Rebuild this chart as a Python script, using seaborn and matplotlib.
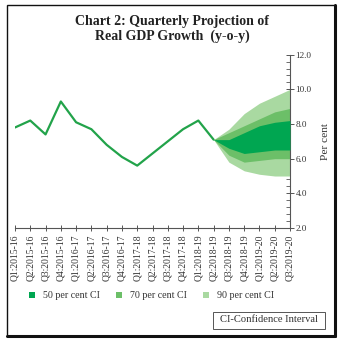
import matplotlib
matplotlib.use("Agg")
import matplotlib.pyplot as plt
from matplotlib.patches import Patch, Rectangle
from matplotlib.lines import Line2D
from matplotlib.ticker import MultipleLocator
import numpy as np
import pandas as pd
import seaborn as sns

# Quarter labels (fiscal years)
quarters = [
    "Q1:2015-16", "Q2:2015-16", "Q3:2015-16", "Q4:2015-16",
    "Q1:2016-17", "Q2:2016-17", "Q3:2016-17", "Q4:2016-17",
    "Q1:2017-18", "Q2:2017-18", "Q3:2017-18", "Q4:2017-18",
    "Q1:2018-19", "Q2:2018-19", "Q3:2018-19", "Q4:2018-19",
    "Q1:2019-20", "Q2:2019-20", "Q3:2019-20",
]

# Actual real GDP growth, Q1:2015-16 to Q2:2018-19 (per cent)
gdp_actual = [7.8, 8.2, 7.4, 9.3, 8.1, 7.7, 6.8, 6.1, 5.6, 6.3, 7.0, 7.7, 8.2, 7.1]

# Projection fan, Q2:2018-19 to Q3:2019-20 (per cent)
fan_start = 13
ci90_low = [7.1, 5.8, 5.3, 5.1, 5.0, 5.0]
ci90_high = [7.1, 7.7, 8.6, 9.2, 9.6, 10.0]
ci70_low = [7.1, 6.2, 5.8, 5.9, 6.0, 6.0]
ci70_high = [7.1, 7.5, 7.9, 8.3, 8.7, 8.9]
ci50_low = [7.1, 6.6, 6.3, 6.4, 6.5, 6.5]
ci50_high = [7.1, 7.1, 7.5, 7.9, 8.1, 8.2]

legend_labels = ["50 per cent CI", "70 per cent CI", "90 per cent CI"]

LINE = "#22a34a"
C50 = "#00a651"
C70 = "#6cbf68"
C90 = "#a9d9a1"

sns.set_theme(style="white")
plt.rcParams["font.family"] = ["Liberation Serif", "DejaVu Serif"]

W, H = 344, 343
fig = plt.figure(figsize=(W / 100, H / 100), dpi=100)
ax = fig.add_axes([15 / W, 1 - 228 / H, 275 / W, (228 - 54.7) / H])

df = pd.DataFrame({"q": np.arange(len(gdp_actual)), "growth": gdp_actual})

fx = np.arange(fan_start, fan_start + len(ci90_low))
ax.fill_between(fx, ci90_low, ci90_high, color=C90, lw=0, zorder=1)
ax.fill_between(fx, ci70_low, ci70_high, color=C70, lw=0, zorder=2)
ax.fill_between(fx, ci50_low, ci50_high, color=C50, lw=0, zorder=3)

sns.lineplot(data=df, x="q", y="growth", ax=ax, color=LINE, lw=1.6,
             zorder=4, legend=False)

ax.set_xlim(0, len(quarters) - 1)
ax.set_ylim(2, 12)
ax.set_xticks(np.arange(len(quarters)))
ax.set_xticklabels(quarters, rotation=90, fontsize=6.9, color="#333333")
ax.yaxis.tick_right()
ax.yaxis.set_label_position("right")
ax.yaxis.set_major_locator(MultipleLocator(2))
ax.yaxis.set_minor_locator(MultipleLocator(0.4))
ax.set_yticklabels([f"{v:.1f}" for v in ax.get_yticks()], fontsize=6.6,
                   color="#333333")
ax.set_ylim(2, 12)
ax.tick_params(axis="y", which="major", direction="inout", length=6,
               width=0.7, color="#555555", pad=1, right=True, left=False)
ax.tick_params(axis="y", which="minor", direction="in", length=3,
               width=0.6, color="#555555", right=True, left=False)
ax.tick_params(axis="x", which="major", direction="inout", length=5,
               width=0.7, color="#555555", pad=2, bottom=True)
ax.set_xlabel("")
ax.set_ylabel("Per cent", fontsize=8.2, color="#333333", labelpad=7)

for side in ["left", "top"]:
    ax.spines[side].set_visible(False)
for side in ["right", "bottom"]:
    ax.spines[side].set_color("#555555")
    ax.spines[side].set_linewidth(0.8)
ax.set_facecolor("none")
ax.grid(False)

# Title
fig.text(172 / W, 1 - 22 / H, "Chart 2: Quarterly Projection of",
         ha="center", va="center", fontsize=10, fontweight="bold",
         color="#222222")
fig.text(172 / W, 1 - 36.5 / H, "Real GDP Growth  (y-o-y)",
         ha="center", va="center", fontsize=10, fontweight="bold",
         color="#222222")

# Legend
handles = [Patch(facecolor=c, edgecolor="none") for c in (C50, C70, C90)]
fig.legend(handles, legend_labels, loc="center", ncol=3,
           bbox_to_anchor=(152 / W, 1 - 296 / H), frameon=False,
           fontsize=7.2, handlelength=0.6, handleheight=0.6,
           handletextpad=0.8, columnspacing=1.6, labelcolor="#333333")

# Note box
fig.text(269 / W, 1 - 320 / H, "CI-Confidence Interval", ha="center",
         va="center", fontsize=7.6, color="#333333")
fig.add_artist(Rectangle((213 / W, 1 - 328.5 / H), 112 / W, 17 / H,
                         transform=fig.transFigure, fill=False,
                         edgecolor="#555555", lw=0.7))

# Outer frame with heavier right and bottom edges
fig.add_artist(Rectangle((7 / W, 1 - 336 / H), 328 / W, 331 / H,
                         transform=fig.transFigure, fill=False,
                         edgecolor="#111111", lw=1.0))
fig.add_artist(Line2D([335 / W, 335 / W], [1 - 336 / H, 1 - 5 / H],
                      transform=fig.transFigure, color="#111111", lw=2.2))
fig.add_artist(Line2D([7 / W, 335 / W], [1 - 336 / H, 1 - 336 / H],
                      transform=fig.transFigure, color="#111111", lw=2.2))

fig.savefig("out.png", dpi=100, facecolor="white")
